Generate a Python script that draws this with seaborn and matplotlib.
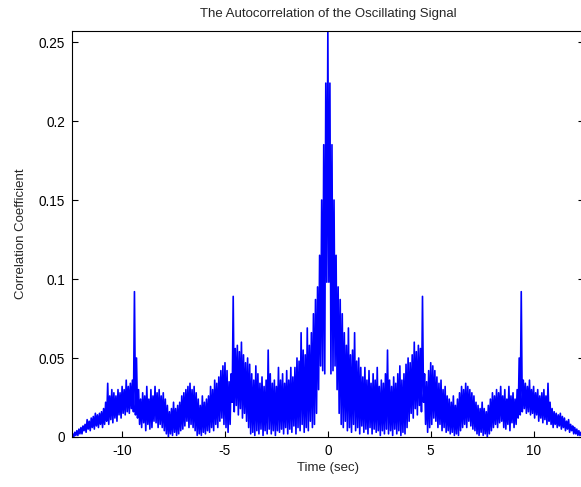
import numpy as np
import pandas as pd
import matplotlib
matplotlib.use("Agg")
import matplotlib.pyplot as plt
import seaborn as sns

# Positive lags (s); the autocorrelation is even, so negative lags mirror these.
lag_s = [round(0.1 * i, 1) for i in range(125)]

# Local maxima read per 0.1 s bin (correlation coefficient)
upper_corr = [
    0.257, 0.224, 0.185, 0.150, 0.115, 0.095, 0.087, 0.078, 0.066, 0.058,
    0.069, 0.052, 0.055, 0.066, 0.048, 0.050, 0.044, 0.038, 0.044, 0.036,
    0.042, 0.034, 0.040, 0.036, 0.044, 0.032, 0.036, 0.034, 0.040, 0.055,
    0.036, 0.032, 0.038, 0.034, 0.040, 0.045, 0.036, 0.040, 0.046, 0.050,
    0.047, 0.052, 0.060, 0.054, 0.058, 0.056, 0.089, 0.040, 0.035, 0.042,
    0.047, 0.045, 0.042, 0.038, 0.034, 0.036, 0.030, 0.032, 0.026, 0.024,
    0.022, 0.026, 0.020, 0.024, 0.028, 0.032, 0.030, 0.034, 0.032, 0.030,
    0.028, 0.026, 0.022, 0.020, 0.018, 0.022, 0.018, 0.016, 0.020, 0.024,
    0.028, 0.026, 0.030, 0.028, 0.032, 0.026, 0.030, 0.024, 0.032, 0.026,
    0.028, 0.024, 0.030, 0.050, 0.092, 0.036, 0.034, 0.032, 0.036, 0.030,
    0.032, 0.028, 0.030, 0.026, 0.028, 0.030, 0.026, 0.034, 0.022, 0.018,
    0.016, 0.015, 0.014, 0.015, 0.013, 0.012, 0.010, 0.011, 0.008, 0.007,
    0.006, 0.005, 0.004, 0.003, 0.002,
]

# Local minima read per 0.1 s bin (taken half a bin later)
lower_corr = [
    0.098, 0.040, 0.042, 0.045, 0.030, 0.015, 0.008, 0.006, 0.010, 0.004,
    0.006, 0.003, 0.008, 0.004, 0.006, 0.002, 0.007, 0.003, 0.005, 0.002,
    0.006, 0.002, 0.005, 0.003, 0.004, 0.001, 0.004, 0.002, 0.005, 0.002,
    0.004, 0.001, 0.005, 0.002, 0.004, 0.001, 0.003, 0.002, 0.006, 0.010,
    0.015, 0.012, 0.018, 0.014, 0.020, 0.016, 0.022, 0.008, 0.003, 0.006,
    0.008, 0.012, 0.010, 0.006, 0.008, 0.004, 0.006, 0.003, 0.004, 0.002,
    0.003, 0.001, 0.002, 0.001, 0.004, 0.006, 0.008, 0.006, 0.010, 0.007,
    0.005, 0.004, 0.002, 0.001, 0.003, 0.001, 0.002, 0.000, 0.002, 0.004,
    0.006, 0.008, 0.006, 0.009, 0.010, 0.006, 0.005, 0.008, 0.004, 0.009,
    0.006, 0.008, 0.012, 0.014, 0.016, 0.018, 0.015, 0.016, 0.014, 0.015,
    0.012, 0.014, 0.010, 0.012, 0.009, 0.011, 0.008, 0.010, 0.008, 0.006,
    0.008, 0.006, 0.007, 0.005, 0.006, 0.004, 0.005, 0.003, 0.004, 0.002,
    0.002, 0.001, 0.001, 0.000, 0.000,
]

x_ticks = [-10, -5, 0, 5, 10]
x_tick_labels = ["-10", "-5", "0", "5", "10"]
y_ticks = [0, 0.05, 0.1, 0.15, 0.2, 0.25]
y_tick_labels = ["0", "0.05", "0.1", "0.15", "0.2", "0.25"]

# Build the dense trace: peak at each bin, trough half a bin later, mirrored.
half_step = 0.05
pos_t, pos_v = [], []
for t, hi, lo in zip(lag_s, upper_corr, lower_corr):
    pos_t += [t, t + half_step]
    pos_v += [hi, lo]
pos_t = np.array(pos_t)
pos_v = np.array(pos_v)
neg_t = -pos_t[1:][::-1]
neg_v = pos_v[1:][::-1]
df = pd.DataFrame({"time": np.concatenate([neg_t, pos_t]),
                   "corr": np.concatenate([neg_v, pos_v])})

sns.set_style("white")
plt.rcParams["font.family"] = ["Liberation Sans", "DejaVu Sans"]
plt.rcParams["axes.unicode_minus"] = False

fig = plt.figure(figsize=(5.81, 4.87), dpi=100)
ax = fig.add_axes([71.7 / 581, 1 - 437 / 487, (584 - 71.7) / 581, (437 - 31) / 487])

sns.lineplot(data=df, x="time", y="corr", sort=False, estimator=None,
             color="#0000ff", linewidth=1.2, ax=ax)

ax.set_xlim(-12.45, 12.45)
ax.set_ylim(0, 0.257)
ax.set_xticks(x_ticks)
ax.set_xticklabels(x_tick_labels)
ax.set_yticks(y_ticks)
ax.set_yticklabels(y_tick_labels)
ax.tick_params(axis="both", direction="in", length=4, width=0.8, labelsize=9.8,
               colors="black", pad=5)
ax.tick_params(axis="y", right=True, left=True)
ax.tick_params(axis="x", top=False, bottom=True)
for side in ["left", "bottom", "top", "right"]:
    ax.spines[side].set_visible(True)
    ax.spines[side].set_color("black")
    ax.spines[side].set_linewidth(0.8)

ax.set_title("The Autocorrelation of the Oscillating Signal", fontsize=9.5, pad=10)
ax.set_xlabel("Time (sec)", fontsize=9.5, labelpad=3)
ax.set_ylabel("Correlation Coefficient", fontsize=9.5, labelpad=8)

fig.savefig("out.png", dpi=100)
